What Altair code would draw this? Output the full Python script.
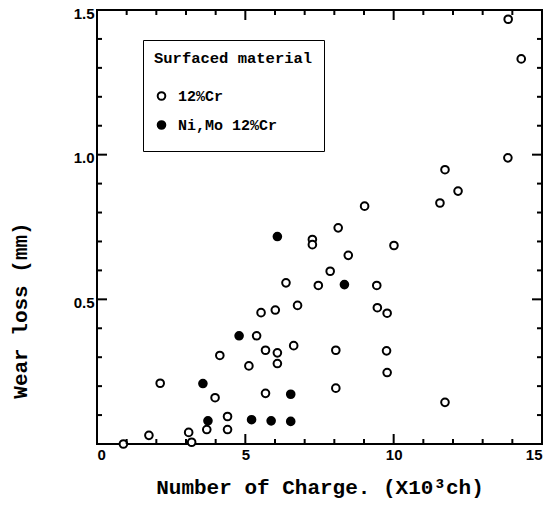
import altair as alt
import pandas as pd

# ---- data ----
open_x = [0.89, 1.75, 2.13, 3.09, 3.19, 3.70, 4.40, 4.40, 3.98, 4.14, 5.12, 5.38, 5.53,
          5.68, 5.68, 6.01, 6.08, 6.08, 6.37, 6.63, 6.76, 7.26, 7.26, 7.46, 7.86, 8.13,
          8.47, 8.05, 8.05, 9.02, 9.43, 9.45, 9.78, 9.76, 9.78, 10.01, 11.56, 11.73,
          12.17, 11.73, 13.85, 13.86, 14.30]
open_y = [0.000, 0.030, 0.210, 0.040, 0.006, 0.050, 0.050, 0.095, 0.160, 0.306, 0.270,
          0.374, 0.454, 0.324, 0.175, 0.463, 0.315, 0.278, 0.557, 0.340, 0.479, 0.707,
          0.689, 0.548, 0.597, 0.747, 0.652, 0.324, 0.193, 0.822, 0.548, 0.471, 0.452,
          0.322, 0.247, 0.686, 0.833, 0.948, 0.874, 0.144, 0.989, 1.468, 1.331]
filled_x = [3.57, 3.74, 4.79, 5.21, 5.87, 6.53, 6.53, 6.08, 8.34]
filled_y = [0.209, 0.080, 0.374, 0.084, 0.080, 0.078, 0.172, 0.717, 0.551]

materials = ["12%Cr", "Ni,Mo 12%Cr"]
x_domain = [0, 15]
y_domain = [0, 1.5]
x_major_ticks = [0, 5, 10, 15]
x_minor_ticks = [1, 2, 3, 4, 6, 7, 8, 9, 11, 12, 13, 14]
y_major_ticks = [0.0, 0.5, 1.0, 1.5]
y_minor_ticks = [0.1, 0.2, 0.3, 0.4, 0.6, 0.7, 0.8, 0.9, 1.1, 1.2, 1.3, 1.4]

df = pd.DataFrame({
    "x": open_x + filled_x,
    "y": open_y + filled_y,
    "material": [materials[0]] * len(open_x) + [materials[1]] * len(filled_x),
})

MONO = "Liberation Mono"
SANS = "Liberation Sans"
W, H = 445, 434
MAJOR, MINOR = 10, 5

xscale = alt.Scale(domain=x_domain, nice=False, zero=False)
yscale = alt.Scale(domain=y_domain, nice=False, zero=False)

x_axis = alt.Axis(
    orient="bottom", tickCount=3, format="d", ticks=False,
    title="Number of Charge. (X10³ch)",
    labelPadding=3, titlePadding=14,
)
y_axis = alt.Axis(
    orient="left", tickCount=3, ticks=False,
    labelExpr="datum.value === 0 ? '' : format(datum.value, '.1f')",
    title="Wear loss (mm)",
    labelPadding=3, labelOffset=3,
    titleX=-67, titleY=300,
)

points = alt.Chart(df).mark_point(
    shape="circle", size=58, strokeWidth=2, stroke="black", opacity=1
).encode(
    x=alt.X("x:Q", scale=xscale, axis=x_axis),
    y=alt.Y("y:Q", scale=yscale, axis=y_axis),
    fill=alt.Fill("material:N", scale=alt.Scale(domain=materials, range=["white", "black"]),
                  legend=alt.Legend(
                      title="Surfaced material", orient="none", legendX=46, legendY=30,
                      padding=11, strokeColor="black", fillColor="white",
                      titleFont=MONO, titleFontSize=15.5, titleFontWeight="bold",
                      titleColor="black", titlePadding=15,
                      labelFont=MONO, labelFontSize=15, labelFontWeight="bold",
                      labelColor="black", labelOffset=9,
                      clipHeight=29, rowPadding=0,
                      symbolSize=58, symbolStrokeWidth=2,
                      symbolStrokeColor="black", symbolType="circle",
                  )),
)


def x_ticks(vals, y0, y1):
    # inward tick marks placed through the shared x scale
    return alt.Chart(pd.DataFrame({"x": vals})).mark_rule(color="black", strokeWidth=2).encode(
        x=alt.X("x:Q", scale=xscale, axis=x_axis), y=alt.value(y0), y2=alt.value(y1))


def y_ticks(vals, x0, x1):
    # inward tick marks placed through the shared y scale
    return alt.Chart(pd.DataFrame({"y": vals})).mark_rule(color="black", strokeWidth=2).encode(
        y=alt.Y("y:Q", scale=yscale, axis=y_axis), x=alt.value(x0), x2=alt.value(x1))


chart = alt.layer(
    points,
    x_ticks(x_major_ticks, H, H - MAJOR),
    x_ticks(x_minor_ticks, H, H - MINOR),
    x_ticks(x_major_ticks, 0, MAJOR),
    x_ticks(x_minor_ticks, 0, MINOR),
    y_ticks(y_major_ticks, 0, MAJOR),
    y_ticks(y_minor_ticks, 0, MINOR),
    y_ticks(y_major_ticks, W, W - MAJOR),
    y_ticks(y_minor_ticks, W, W - MINOR),
).properties(
    width=W, height=H,
    padding={"left": 89, "top": 2, "right": 2, "bottom": 58},
    autosize=alt.AutoSizeParams(type="none"),
    background="white",
).configure_view(
    stroke="black", strokeWidth=2,
).configure_axis(
    domain=False, grid=False,
    labelFont=SANS, labelFontSize=15, labelFontWeight="bold", labelColor="black",
    titleFont=MONO, titleFontSize=21, titleFontWeight="bold", titleColor="black",
)

chart.save("out.html", embed_options={"renderer": "svg", "actions": False})
